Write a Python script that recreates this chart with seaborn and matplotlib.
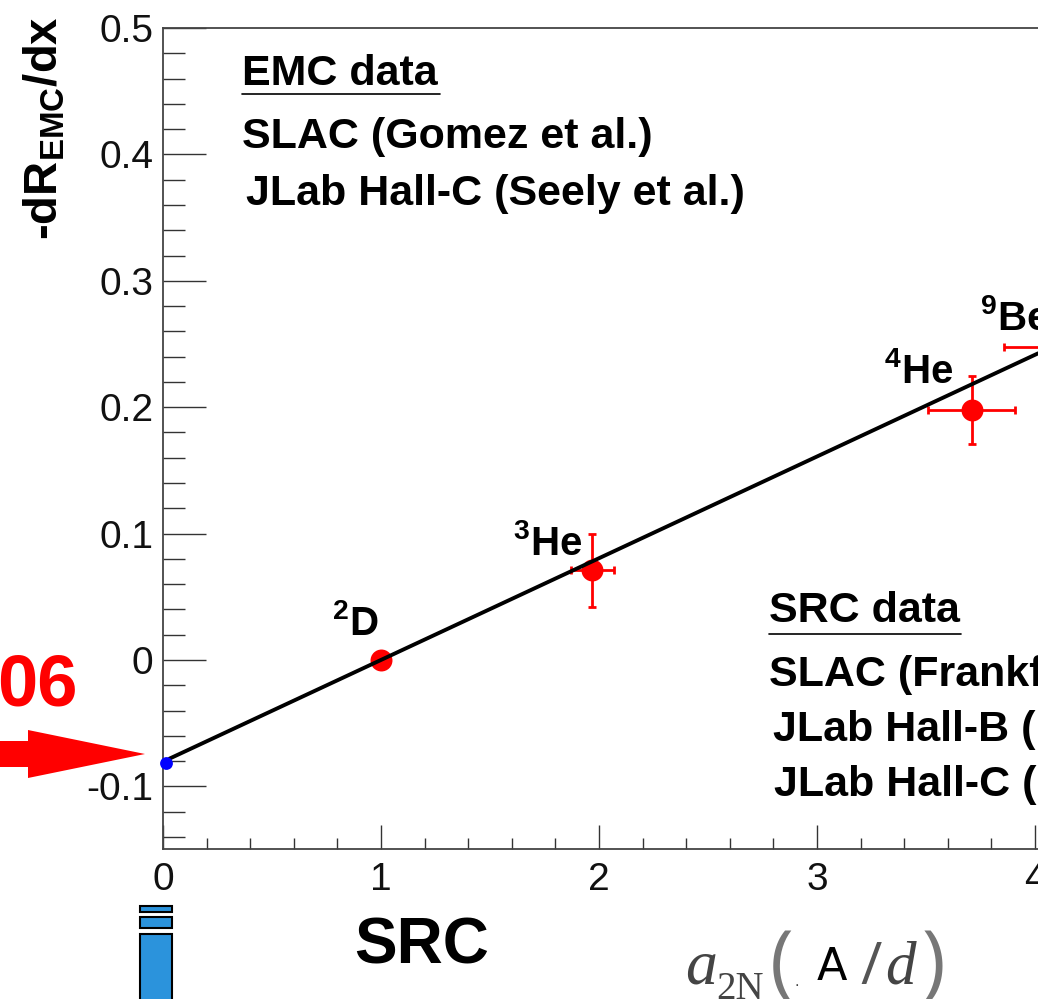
import pandas as pd
import matplotlib
matplotlib.use('Agg')
import matplotlib.pyplot as plt
import seaborn as sns
from matplotlib.patches import Polygon, Rectangle
from matplotlib.ticker import MultipleLocator, FormatStrFormatter

# nuclei
nuclei = ['2D', '3He', '4He', '9Be']
a2n = [1.0, 1.97, 3.71, 4.06]
slope = [0.0, 0.071, 0.198, 0.248]
a2n_err = [0.0, 0.10, 0.20, 0.20]
slope_err = [0.0, 0.029, 0.027, 0.0]

# fit line and the extrapolated point
fit_x = [0.03, 4.014]
fit_y = [-0.078, 0.2426]
blue_x = [0.014]
blue_y = [-0.0815]

W, H = 1038, 999

sns.set_theme(style='ticks')
plt.rcParams['font.family'] = ['Liberation Sans', 'DejaVu Sans']
plt.rcParams['axes.unicode_minus'] = False
plt.rcParams['mathtext.fontset'] = 'custom'
plt.rcParams['mathtext.bf'] = 'Liberation Sans:bold'
plt.rcParams['mathtext.rm'] = 'Liberation Sans'


def fx(px):
    return px / W


def fy(py):
    return 1 - py / H


fig = plt.figure(figsize=(W / 100, H / 100), dpi=100)
ax = fig.add_axes([fx(163), fy(849), (W - 163) / W, (849 - 28) / H])

df = pd.DataFrame({'x': a2n, 'y': slope, 'xe': a2n_err, 'ye': slope_err})
fit = pd.DataFrame({'x': fit_x, 'y': fit_y})
blue = pd.DataFrame({'x': blue_x, 'y': blue_y})

ax.errorbar(df['x'], df['y'], xerr=df['xe'], yerr=df['ye'], fmt='none', ecolor='#ff0000',
            elinewidth=2, capsize=3, capthick=2, zorder=2)
sns.scatterplot(data=df.iloc[:3], x='x', y='y', color='#ff0000', s=250, linewidth=0, ax=ax, zorder=3)
sns.lineplot(data=fit, x='x', y='y', color='black', linewidth=2.8, ax=ax, zorder=4, errorbar=None)
sns.scatterplot(data=blue, x='x', y='y', color='#0000ff', s=85, linewidth=0, ax=ax, zorder=5, clip_on=False)

ax.set_xlim(0, (W - 163) / 218)
ax.set_ylim(-0.1495, 0.5)
ax.set_xlabel('')
ax.set_ylabel('')
ax.xaxis.set_major_locator(MultipleLocator(1))
ax.xaxis.set_minor_locator(MultipleLocator(0.2))
ax.yaxis.set_major_locator(MultipleLocator(0.1))
ax.yaxis.set_minor_locator(MultipleLocator(0.02))
ax.xaxis.set_major_formatter(FormatStrFormatter('%d'))
ax.yaxis.set_major_formatter(lambda v, pos: '0' if abs(v) < 1e-9 else f'{v:.1f}')
ax.tick_params(axis='y', which='major', direction='in', length=31, width=1, color='#333333',
               labelsize=28, pad=7, labelcolor='#111111')
ax.tick_params(axis='y', which='minor', direction='in', length=15.5, width=1, color='#333333')
ax.tick_params(axis='x', which='major', direction='in', length=17, width=1, color='#333333',
               labelsize=28, pad=9, labelcolor='#111111')
ax.tick_params(axis='x', which='minor', direction='in', length=8, width=1, color='#333333')
for s in ax.spines.values():
    s.set_color('#444444')
    s.set_linewidth(1.3)
ax.spines['right'].set_visible(False)


def label(px, py, s, size=25, weight='bold', color='black', **kw):
    fig.text(fx(px), fy(py), s, fontsize=size, fontweight=weight, color=color, **kw)


# legends
label(242, 85, 'EMC data', size=31)
label(242, 148, 'SLAC (Gomez et al.)', size=31)
label(246, 205, 'JLab Hall-C (Seely et al.)', size=31)
label(769, 622, 'SRC data', size=31)
label(769, 686, 'SLAC (Frankfurt et al.)', size=31)
label(773, 741, 'JLab Hall-B (Egiyan et al.)', size=31)
label(774, 796, 'JLab Hall-C (Fomin et al.)', size=31)
fig.add_artist(plt.Line2D([fx(242), fx(440)], [fy(94), fy(94)], color='black', lw=1.2))
fig.add_artist(plt.Line2D([fx(769), fx(961)], [fy(634), fy(634)], color='black', lw=1.2))

# nuclei labels
label(332, 635, r'$\mathbf{^{2}}$D', size=29)
label(513, 555, r'$\mathbf{^{3}}$He', size=29)
label(884, 383, r'$\mathbf{^{4}}$He', size=29)
label(980, 330, r'$\mathbf{^{9}}$Be', size=29)

# axis titles
label(45, 240, r'-dR$_{\mathbf{EMC}}$/dx', size=34, rotation=90, ha='center', va='bottom')
label(354, 963, 'SRC', size=46)

# partly cut off pieces around the plot
label(-3, 705, '06', size=52, color='#ff0000')
arrow = [(0, 741), (28, 741), (28, 730), (145, 754), (28, 778), (28, 767), (0, 767)]
fig.add_artist(Polygon([(fx(a), fy(b)) for a, b in arrow], closed=True, color='#ff0000', lw=0,
                       transform=fig.transFigure))
for top, bottom in [(906, 912), (917, 928), (934, 1003)]:
    fig.add_artist(Rectangle((fx(140), fy(bottom)), 32 / W, (bottom - top) / H, facecolor='#2b93dc',
                             edgecolor='black', lw=1.5, transform=fig.transFigure))

# a2N(A/d) label
serif = 'Liberation Serif'
label(685, 983, 'a', size=46, weight='normal', color='#444444', family=serif, style='italic')
label(716, 999, '2N', size=28, weight='normal', color='#444444', family=serif)
label(770, 988, '(', size=58, weight='normal', color='#777777', family='Open Sans')
label(794, 986, '.', size=12, weight='normal', color='#444444')
label(817, 980, 'A', size=32, weight='normal', color='black', family='DejaVu Sans')
label(860, 984, '/', size=42, weight='normal', color='#555555', family='Open Sans')
label(885, 983, 'd', size=44, weight='normal', color='#444444', family=serif, style='italic')
label(922, 988, ')', size=58, weight='normal', color='#777777', family='Open Sans')

fig.savefig('out.png', dpi=100)
